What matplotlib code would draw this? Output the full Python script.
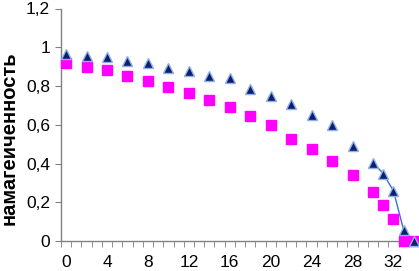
import numpy as np
import matplotlib
matplotlib.use("Agg")
import matplotlib.pyplot as plt
from matplotlib.ticker import FixedLocator

plt.rcParams['font.family'] = ['Liberation Sans', 'DejaVu Sans']

# triangles (upper series)
tri_x = [0, 2, 4, 6, 8, 10, 12, 14, 16, 18, 20, 22, 24, 26, 28, 30, 31, 32, 33, 34]
tri_y = [0.967, 0.957, 0.952, 0.928, 0.921, 0.893, 0.879, 0.854, 0.84, 0.785,
         0.746, 0.709, 0.652, 0.60, 0.49, 0.405, 0.348, 0.259, 0.057, 0.0]

# squares (lower series)
sq_x = [0, 2, 4, 6, 8, 10, 12, 14, 16, 18, 20, 22, 24, 26, 28, 30, 31, 32, 33, 34]
sq_y = [0.921, 0.898, 0.883, 0.85, 0.828, 0.797, 0.764, 0.726, 0.693, 0.647,
        0.60, 0.528, 0.476, 0.414, 0.34, 0.255, 0.186, 0.115, 0.0, 0.0]

# fitted curve near the end
fit_x = [30, 31, 32, 33, 34]
fit_y = [0.405, 0.348, 0.259, 0.057, 0.0]

x_labels = [0, 4, 8, 12, 16, 20, 24, 28, 32]
y_ticks = [0, 0.2, 0.4, 0.6, 0.8, 1.0, 1.2]
y_labels = ['0', '0,2', '0,4', '0,6', '0,8', '1', '1,2']
ylabel = 'намагеиченность'

fig = plt.figure(figsize=(4.19, 2.71), dpi=100)
ax = fig.add_axes([61 / 419, 30 / 271, 358 / 419, 232.5 / 271])

ax.plot(fit_x, fit_y, color='#3a6fd8', lw=1.0, zorder=2)
ax.plot(sq_x, sq_y, ls='none', marker='s', ms=7.5, mfc='#ff00ff', mec='#ff00ff',
        zorder=3, clip_on=False)
ax.plot(tri_x, tri_y, ls='none', marker='^', ms=7.5, mfc='#0d1f6e', mec='#8fb0e8',
        mew=1.0, zorder=4, clip_on=False)

ax.set_xlim(-0.5, 34.5)
ax.set_ylim(0, 1.2)

ax.xaxis.set_major_locator(FixedLocator(x_labels))
ax.xaxis.set_minor_locator(FixedLocator(np.arange(-0.5, 34.6, 1.0)))
ax.set_xticklabels([str(v) for v in x_labels])
ax.tick_params(axis='x', which='major', length=0, pad=10, labelsize=12.5)
ax.tick_params(axis='x', which='minor', length=4, color='#808080', direction='out')

ax.set_yticks(y_ticks)
ax.set_yticklabels(y_labels)
ax.tick_params(axis='y', length=4, color='#808080', direction='out', labelsize=12.5, pad=4)

for s in ['top', 'right']:
    ax.spines[s].set_visible(False)
for s in ['left', 'bottom']:
    ax.spines[s].set_color('#808080')
    ax.spines[s].set_linewidth(1.0)

fig.text(9 / 419, 1 - 138 / 271, ylabel, rotation=90, ha='center', va='center',
         fontsize=14.5, fontweight='bold')

fig.savefig('out.png', dpi=100)
